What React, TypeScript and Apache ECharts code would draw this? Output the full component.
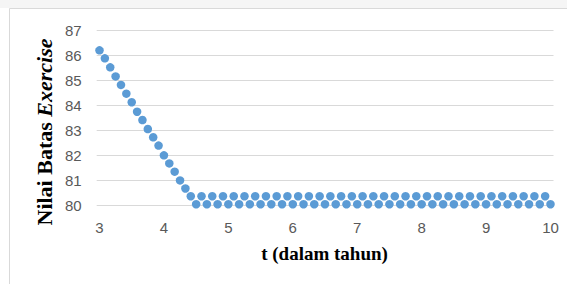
import React, { useEffect, useRef } from "react";
import * as echarts from "echarts";

const startYear = 3;
const stepsPerYear = 12;

const yValues: number[] = [
  86.19, 85.87, 85.51, 85.15, 84.81, 84.46, 84.12, 83.74, 83.41, 83.05,
  82.72, 82.39, 82.0, 81.68, 81.35, 81.0, 80.68,
  80.37, 80.05, 80.37, 80.05, 80.37, 80.05, 80.37, 80.05, 80.37, 80.05,
  80.37, 80.05, 80.37, 80.05, 80.37, 80.05, 80.37, 80.05, 80.37, 80.05,
  80.37, 80.05, 80.37, 80.05, 80.37, 80.05, 80.37, 80.05, 80.37, 80.05,
  80.37, 80.05, 80.37, 80.05, 80.37, 80.05, 80.37, 80.05, 80.37, 80.05,
  80.37, 80.05, 80.37, 80.05, 80.37, 80.05, 80.37, 80.05, 80.37, 80.05,
  80.37, 80.05, 80.37, 80.05, 80.37, 80.05, 80.37, 80.05, 80.37, 80.05,
  80.37, 80.05, 80.37, 80.05, 80.37, 80.05, 80.37, 80.05,
];

const xMin = 3;
const xMax = 10;
const yMin = 80;
const yMax = 87;

const xTitle = "t (dalam tahun)";
const yTitleMain = "Nilai Batas ";
const yTitleItalic = "Exercise";

export default function App() {
  const ref = useRef<HTMLDivElement>(null);
  useEffect(() => {
    if (!ref.current) return;
    const chart = echarts.init(ref.current, null, { renderer: "svg" });
    const data = yValues.map((v, i) => [startYear + i / stepsPerYear, v]);
    const labelStyle = {
      color: "#595959",
      fontSize: 15,
      fontFamily: "Liberation Sans, Arial, sans-serif",
    };
    const serif = "Liberation Serif, Times New Roman, serif";
    chart.setOption({
      animation: false,
      backgroundColor: "#ffffff",
      grid: [
        { left: 96.7, right: 13.5, top: 30, height: 175.5 },
        { left: 99.5, right: 16.5, top: 30, height: 175.5 },
      ],
      xAxis: [
        { gridIndex: 0, type: "value", min: 0, max: 1, show: false },
        {
          gridIndex: 1,
          type: "value",
          min: xMin,
          max: xMax,
          interval: 1,
          axisLine: { show: false },
          axisTick: { show: false },
          splitLine: { show: false },
          axisLabel: { ...labelStyle, margin: 14 },
        },
      ],
      yAxis: [
        {
          gridIndex: 0,
          type: "value",
          min: yMin,
          max: yMax,
          interval: 1,
          axisLine: { show: false },
          axisTick: { show: false },
          splitLine: { lineStyle: { color: "#d9d9d9", width: 1 } },
          axisLabel: { ...labelStyle, margin: 15 },
        },
        {
          gridIndex: 1,
          type: "value",
          min: yMin,
          max: yMax,
          show: false,
        },
      ],
      graphic: [
        {
          type: "rect",
          silent: true,
          shape: { x: 0, y: 0, width: 567, height: 8 },
          style: { fill: "#f5f5f5" },
        },
        {
          type: "rect",
          silent: true,
          shape: { x: 9.5, y: 8.5, width: 600, height: 300 },
          style: { fill: "none", stroke: "#d9d9d9", lineWidth: 1 },
        },
        {
          type: "text",
          x: 44,
          y: 132,
          rotation: Math.PI / 2,
          style: {
            text: `{b|${yTitleMain}}{i|${yTitleItalic}}`,
            align: "center",
            verticalAlign: "middle",
            rich: {
              b: { fontFamily: serif, fontSize: 22, fontWeight: "bold", fill: "#000" },
              i: {
                fontFamily: serif,
                fontSize: 22,
                fontWeight: "bold",
                fontStyle: "italic",
                fill: "#000",
              },
            },
          },
        },
        {
          type: "text",
          x: 324.5,
          y: 253,
          style: {
            text: xTitle,
            align: "center",
            verticalAlign: "middle",
            fontFamily: serif,
            fontSize: 19,
            fontWeight: "bold",
            fill: "#000",
          },
        },
      ],
      series: [
        {
          type: "scatter",
          xAxisIndex: 1,
          yAxisIndex: 1,
          data,
          symbol: "circle",
          symbolSize: 8.5,
          itemStyle: { color: "#5b9bd5", opacity: 1 },
        },
      ],
    });
    return () => chart.dispose();
  }, []);
  return (
    <div
      ref={ref}
      style={{ position: "fixed", left: 0, top: 0, width: 567, height: 284 }}
    />
  );
}
